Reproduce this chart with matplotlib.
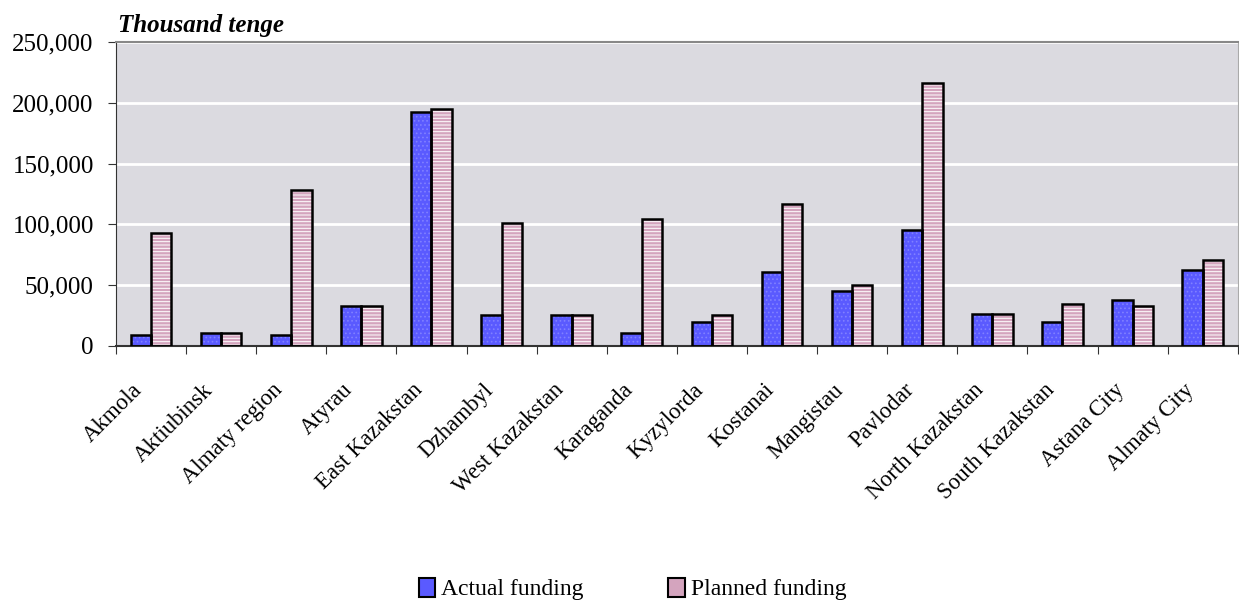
import matplotlib
matplotlib.use("Agg")
import matplotlib.pyplot as plt
import numpy as np
from matplotlib.ticker import FuncFormatter, MultipleLocator
from matplotlib.patches import Patch
from matplotlib.transforms import ScaledTranslation

regions = ["Akmola", "Aktiubinsk", "Almaty region", "Atyrau", "East Kazakstan",
           "Dzhambyl", "West Kazakstan", "Karaganda", "Kyzylorda", "Kostanai",
           "Mangistau", "Pavlodar", "North Kazakstan", "South Kazakstan",
           "Astana City", "Almaty City"]
actual = [8800, 11000, 8800, 32600, 192400, 25200, 25200, 11000, 19700, 60900,
          45000, 95100, 26600, 19700, 37600, 62800]
planned = [93000, 11000, 128000, 32600, 194600, 101100, 25200, 104400, 25200, 117100,
           50500, 216300, 26600, 34300, 32600, 70500]

plt.rcParams['font.family'] = ['Liberation Serif', 'DejaVu Serif']
plt.rcParams['hatch.linewidth'] = 0.7

fig = plt.figure(figsize=(12.39, 6.01), dpi=100)
ax = fig.add_axes([0.0936, 0.4243, 0.9054, 0.5057])
ax.set_facecolor('#DBDAE0')

x = np.arange(len(regions))
w = 0.29
blue = '#5A5AFF'
pink = '#D4A4BE'

ax.bar(x - w/2, actual, w, color=blue, hatch='....', edgecolor='#8080FF', linewidth=0, zorder=2)
ax.bar(x - w/2, actual, w, fill=False, edgecolor='black', linewidth=1.8, zorder=3)
ax.bar(x + w/2, planned, w, color=pink, hatch='-----', edgecolor='white', linewidth=0, zorder=2)
ax.bar(x + w/2, planned, w, fill=False, edgecolor='black', linewidth=1.8, zorder=3)

ax.set_xlim(-0.5, len(regions) - 0.5)
ax.set_ylim(0, 250000)
ax.yaxis.set_major_locator(MultipleLocator(50000))
ax.yaxis.set_major_formatter(FuncFormatter(lambda v, p: f"{int(v):,}"))
ax.grid(axis='y', color='white', linewidth=2, zorder=1)
ax.set_axisbelow(True)

ax.set_xticks(np.arange(len(regions) + 1) - 0.5)
ax.set_xticklabels([])
ax.set_xticks(x, minor=True)
ax.set_xticklabels(regions, minor=True, rotation=45, ha='right', rotation_mode='anchor', fontsize=16.5)
ax.tick_params(axis='x', which='minor', length=0, pad=14)
ax.tick_params(axis='x', which='major', length=6, direction='out', color='#333333')
ax.tick_params(axis='y', length=6, direction='out', labelsize=18, color='#333333', pad=10)
off = ScaledTranslation(-19/100, -14/100, fig.dpi_scale_trans)
for lab in ax.get_xticklabels(minor=True):
    lab.set_transform(lab.get_transform() + off)

ax.spines['left'].set_color('#333333')
ax.spines['bottom'].set_color('#333333')
ax.spines['bottom'].set_linewidth(1.5)
ax.spines['top'].set_color('#888888')
ax.spines['top'].set_linewidth(1.5)
ax.spines['right'].set_color('#AAAAAA')

fig.text(0.0952, 0.958, "Thousand tenge", fontsize=18, fontweight='bold', fontstyle='italic',
         va='center', ha='left')

handles = [Patch(facecolor=blue, edgecolor='black', linewidth=1.5, label='Actual funding'),
           Patch(facecolor=pink, edgecolor='black', linewidth=1.5, label='Planned funding')]
fig.legend(handles=handles, loc='center', bbox_to_anchor=(0.5105, 0.02), ncol=2, frameon=False,
           fontsize=17, handlelength=0.7, handleheight=0.9, handletextpad=0.25, columnspacing=3.6)

fig.savefig('out.png', dpi=100)
